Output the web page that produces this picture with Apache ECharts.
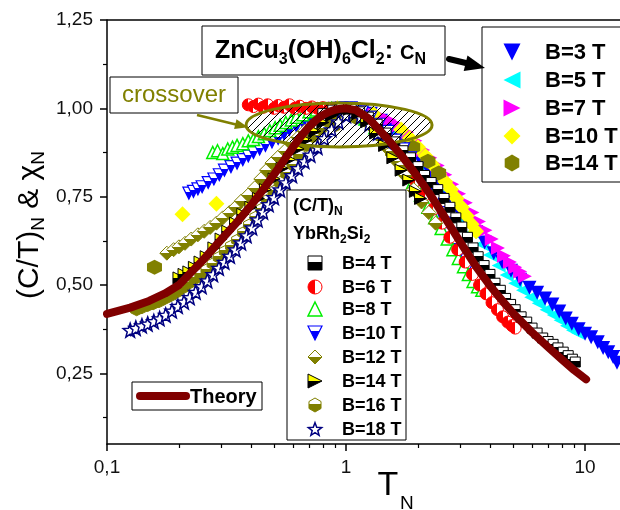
<!DOCTYPE html>
<html><head><meta charset="utf-8">
<script src="https://cdn.jsdelivr.net/npm/echarts@6/dist/echarts.min.js"></script>
<style>html,body{margin:0;padding:0;background:#fff}#c{width:620px;height:510px}</style>
</head><body><div id="c"></div>
<script>
const FONT = '"Liberation Sans", Arial, Helvetica, sans-serif';

// ---- axis ticks ----
const xMajorTicks = [0.1, 1, 10];
const xMinorTicks = [0.2, 0.3, 0.4, 0.5, 0.6, 0.7, 0.8, 0.9, 2, 3, 4, 5, 6, 7, 8, 9];
const yMajorTicks = [0.25, 0.5, 0.75, 1.0, 1.25];
const yMinorTicks = [0.125, 0.375, 0.625, 0.875, 1.125];

// ---- YbRh2Si2 (C/T)_N ----
const yb4 = [[0.8,0.985],[0.88,0.995],[0.96,1.0],[1.05,0.998],[1.14,0.99],[1.24,0.975],[1.35,0.955],[1.47,0.93],[1.6,0.905],[1.73,0.88],[1.86,0.86],[2.0,0.835],[2.13,0.81],[2.27,0.79],[2.42,0.77],[2.57,0.745],[2.72,0.72],[2.88,0.69],[3.05,0.664],[3.22,0.635],[3.4,0.605],[3.57,0.58],[3.78,0.555],[4.0,0.53],[4.2,0.505],[4.42,0.485],[4.65,0.462],[4.88,0.445],[5.1,0.43],[5.4,0.41],[5.7,0.395],[6.0,0.378],[6.3,0.364],[6.65,0.35],[7.0,0.34],[7.35,0.332],[7.7,0.322],[8.1,0.31],[8.5,0.3],[8.85,0.29],[9.1,0.282]];
const yb6 = [[0.39,1.01],[0.41,1.005],[0.43,1.012],[0.45,1.003],[0.47,1.01],[0.5,1.0],[0.52,1.008],[0.55,1.003],[0.58,1.01],[0.61,1.0],[0.64,1.006],[0.68,1.0],[0.72,1.004],[0.76,1.0],[0.8,1.002],[0.85,0.998],[0.9,1.0],[0.96,0.998],[1.03,0.995],[1.12,0.985],[1.22,0.965],[1.34,0.94],[1.47,0.91],[1.62,0.87],[1.78,0.835],[1.95,0.795],[2.13,0.755],[2.32,0.715],[2.52,0.675],[2.72,0.635],[2.93,0.6],[3.15,0.565],[3.38,0.53],[3.62,0.5],[3.85,0.475],[4.08,0.45],[4.3,0.43],[4.52,0.41],[4.75,0.395],[4.95,0.385],[5.1,0.378]];
const yb8 = [[0.277,0.875],[0.29,0.88],[0.305,0.872],[0.32,0.885],[0.335,0.89],[0.35,0.895],[0.37,0.9],[0.39,0.908],[0.41,0.912],[0.43,0.92],[0.455,0.928],[0.48,0.937],[0.505,0.945],[0.53,0.952],[0.56,0.96],[0.59,0.967],[0.62,0.975],[0.66,0.982],[0.7,0.99],[0.75,0.995],[0.8,0.998],[0.87,1.0],[0.94,1.0],[1.02,0.998],[1.1,0.99],[1.2,0.97],[1.32,0.945],[1.45,0.91],[1.6,0.87],[1.75,0.83],[1.9,0.79],[2.05,0.755],[2.2,0.72],[2.35,0.69],[2.5,0.66],[2.65,0.63],[2.8,0.6],[2.95,0.575],[3.1,0.552],[3.25,0.53],[3.4,0.51],[3.55,0.495],[3.7,0.485]];
const yb10 = [[0.22,0.76],[0.23,0.765],[0.24,0.772],[0.25,0.778],[0.265,0.79],[0.28,0.8],[0.295,0.812],[0.31,0.825],[0.33,0.835],[0.35,0.845],[0.37,0.855],[0.39,0.865],[0.41,0.875],[0.435,0.885],[0.46,0.895],[0.49,0.905],[0.52,0.915],[0.55,0.928],[0.58,0.94],[0.62,0.95],[0.66,0.96],[0.7,0.97],[0.75,0.98],[0.8,0.99],[0.86,0.995],[0.93,1.0],[1.0,1.0],[1.08,0.998],[1.17,0.99],[1.27,0.975],[1.38,0.955],[1.5,0.935],[1.62,0.91],[1.74,0.885],[1.86,0.86],[1.98,0.83],[2.1,0.8],[2.22,0.77],[2.35,0.74],[2.48,0.705],[2.6,0.675],[2.72,0.645],[2.84,0.615],[2.96,0.585],[3.08,0.562],[3.2,0.545]];
const yb12 = [[0.178,0.59],[0.19,0.6],[0.2,0.608],[0.212,0.618],[0.225,0.63],[0.24,0.642],[0.255,0.652],[0.27,0.663],[0.287,0.675],[0.305,0.69],[0.325,0.705],[0.345,0.72],[0.365,0.738],[0.39,0.755],[0.415,0.775],[0.44,0.8],[0.465,0.825],[0.49,0.845],[0.52,0.862],[0.555,0.88],[0.59,0.9],[0.63,0.918],[0.67,0.935],[0.72,0.95],[0.77,0.965],[0.83,0.978],[0.9,0.99],[0.97,0.998],[1.05,0.995],[1.14,0.98],[1.25,0.955],[1.37,0.925],[1.5,0.885],[1.63,0.85],[1.77,0.81],[1.92,0.77],[2.07,0.735],[2.22,0.705],[2.37,0.675]];
const yb14 = [[0.2,0.52],[0.21,0.53],[0.22,0.537],[0.232,0.55],[0.245,0.565],[0.26,0.58],[0.28,0.605],[0.3,0.63],[0.32,0.652],[0.345,0.675],[0.37,0.7],[0.4,0.72],[0.43,0.745],[0.46,0.77],[0.5,0.8],[0.54,0.83],[0.58,0.855],[0.63,0.885],[0.68,0.91],[0.74,0.935],[0.8,0.96],[0.87,0.98],[0.95,0.995],[1.03,0.997],[1.12,0.985],[1.22,0.962],[1.33,0.93],[1.45,0.895],[1.57,0.86],[1.7,0.825],[1.83,0.797],[1.95,0.765],[2.05,0.745]];
const yb16 = [[0.133,0.43],[0.14,0.436],[0.148,0.442],[0.156,0.447],[0.165,0.453],[0.175,0.462],[0.185,0.47],[0.196,0.48],[0.208,0.492],[0.22,0.505],[0.233,0.518],[0.247,0.53],[0.262,0.543],[0.278,0.56],[0.295,0.578],[0.313,0.595],[0.332,0.61],[0.352,0.627],[0.373,0.648],[0.395,0.67],[0.42,0.692],[0.445,0.715],[0.47,0.74],[0.5,0.765],[0.53,0.79],[0.565,0.815],[0.6,0.84],[0.64,0.868],[0.685,0.895],[0.73,0.92],[0.78,0.942],[0.84,0.962],[0.9,0.98],[0.97,0.995],[1.05,0.995],[1.15,0.98],[1.27,0.955],[1.4,0.92],[1.55,0.875],[1.7,0.835]];
const yb18 = [[0.125,0.372],[0.132,0.378],[0.14,0.385],[0.148,0.39],[0.157,0.397],[0.166,0.405],[0.176,0.415],[0.187,0.427],[0.198,0.44],[0.21,0.452],[0.222,0.465],[0.235,0.48],[0.249,0.496],[0.263,0.512],[0.278,0.53],[0.294,0.548],[0.31,0.565],[0.327,0.582],[0.345,0.6],[0.364,0.62],[0.384,0.64],[0.405,0.662],[0.427,0.685],[0.45,0.707],[0.475,0.728],[0.5,0.748],[0.53,0.77],[0.56,0.79],[0.595,0.81],[0.63,0.83],[0.67,0.85],[0.71,0.868],[0.76,0.89],[0.81,0.915],[0.87,0.94],[0.93,0.962],[1.0,0.98],[1.07,0.99],[1.15,0.975],[1.25,0.955],[1.36,0.93],[1.48,0.905]];

// ---- ZnCu3(OH)6Cl2 C_N ----
const zn3 = [[0.8,0.985],[0.88,0.995],[0.96,1.0],[1.05,1.0],[1.15,0.995],[1.27,0.985],[1.4,0.965],[1.55,0.94],[1.7,0.915],[1.87,0.885],[2.05,0.85],[2.25,0.815],[2.47,0.78],[2.7,0.745],[2.95,0.71],[3.2,0.68],[3.5,0.65],[3.8,0.62],[4.15,0.59],[4.5,0.565],[4.9,0.54],[5.35,0.515],[5.85,0.492],[6.3,0.478],[6.8,0.462],[7.3,0.445],[7.8,0.425],[8.3,0.405],[8.8,0.39],[9.4,0.375],[10.0,0.362],[10.6,0.352],[11.3,0.338],[11.9,0.322],[12.5,0.31],[13.1,0.296],[13.6,0.28]];
const zn5 = [[0.82,0.99],[0.92,0.998],[1.02,1.0],[1.13,0.995],[1.25,0.982],[1.4,0.96],[1.56,0.935],[1.73,0.905],[1.92,0.87],[2.12,0.835],[2.34,0.8],[2.58,0.76],[2.83,0.72],[3.1,0.685],[3.4,0.65],[3.7,0.615],[4.0,0.585],[4.35,0.555],[4.7,0.528],[5.1,0.505],[5.5,0.485],[5.95,0.465],[6.4,0.448],[6.9,0.43],[7.4,0.415],[7.9,0.4],[8.4,0.385],[8.9,0.372],[9.3,0.365]];
const zn7 = [[0.8,0.99],[0.9,1.0],[1.0,1.0],[1.12,0.998],[1.25,0.99],[1.38,0.98],[1.52,0.967],[1.66,0.952],[1.8,0.932],[1.95,0.908],[2.1,0.882],[2.25,0.86],[2.42,0.838],[2.6,0.812],[2.78,0.785],[2.97,0.758],[3.17,0.733],[3.38,0.705],[3.6,0.68],[3.83,0.655],[4.07,0.63],[4.32,0.605],[4.58,0.583],[4.85,0.565],[5.1,0.55],[5.35,0.538],[5.6,0.525]];
const zn10 = [[0.207,0.70],[0.287,0.73],[0.92,1.0],[1.3,0.985],[1.7,0.94],[1.85,0.915],[2.0,0.89],[2.15,0.865],[2.3,0.84],[2.45,0.815],[2.6,0.792],[2.75,0.77],[2.9,0.745],[3.05,0.72],[3.2,0.695],[3.35,0.672],[3.5,0.652]];
const zn14 = [[0.158,0.55],[0.88,0.95],[1.1,0.975],[1.9,0.89],[2.2,0.85],[2.44,0.817]];

// ---- Theory ----
const theory = [[0.1,0.418],[0.125,0.436],[0.15,0.455],[0.175,0.476],[0.2,0.5],[0.225,0.536],[0.25,0.568],[0.3,0.628],[0.35,0.678],[0.4,0.725],[0.45,0.77],[0.5,0.813],[0.55,0.853],[0.6,0.89],[0.65,0.922],[0.7,0.948],[0.75,0.967],[0.8,0.981],[0.85,0.99],[0.9,0.996],[0.95,0.999],[1.0,1.0],[1.1,0.995],[1.25,0.97],[1.5,0.912],[1.75,0.857],[2.0,0.805],[2.25,0.756],[2.5,0.708],[2.75,0.663],[3.0,0.622],[3.5,0.552],[4.0,0.498],[4.5,0.456],[5.0,0.42],[6.0,0.366],[7.0,0.324],[8.0,0.289],[9.0,0.259],[10.1,0.233]];

// ---------- styling helpers ----------
const OLIVE = '#808000', NAVY = '#000080';
const SHAPES = {
  down: [[0,0],[1,0],[0.5,1]],
  up: [[0.5,0],[1,1],[0,1]],
  right: [[0,0],[1,0.5],[0,1]],
  left: [[1,0],[0,0.5],[1,1]],
  diamond: [[0.5,0],[1,0.5],[0.5,1],[0,0.5]],
  hex: [[0.5,0],[0.93,0.25],[0.93,0.75],[0.5,1],[0.07,0.75],[0.07,0.25]],
  rect: [[0,0],[1,0],[1,1],[0,1]],
  star: (function(){ const p=[]; for(let i=0;i<10;i++){ const a=-Math.PI/2+i*Math.PI/5, r=i%2?0.21:0.5; p.push([0.5+r*Math.cos(a),0.55+r*Math.sin(a)]);} return p; })()
};
function symPath(k){
  if (k==='circle') return 'circle';
  if (k==='rect') return 'rect';
  return 'path://M' + SHAPES[k].map(p => (p[0]*20).toFixed(2)+','+(p[1]*20).toFixed(2)).join('L') + 'Z';
}
const LG = echarts.graphic.LinearGradient;
function vHalf(top, bot, at){ return new LG(0,0,0,1,[{offset:0,color:top},{offset:at,color:top},{offset:at,color:bot},{offset:1,color:bot}]); }
function hHalf(left, right, at){ return new LG(0,0,1,0,[{offset:0,color:left},{offset:at,color:left},{offset:at,color:right},{offset:1,color:right}]); }

const STY = {
  yb4:  {shape:'rect', size:10, fill:()=>vHalf('#fff','#000',0.45), stroke:'#000', lw:1},
  yb6:  {shape:'circle', size:12, fill:()=>hHalf('#ff0000','#fff',0.5), stroke:'#ff0000', lw:1},
  yb8:  {shape:'up', size:12, fill:()=>'#fff', stroke:'#00ee00', lw:1.5},
  yb10: {shape:'down', size:12, fill:()=>vHalf('#fff','#0000ff',0.4), stroke:'#0000ff', lw:1.2},
  yb12: {shape:'diamond', size:14, fill:()=>vHalf('#fff',OLIVE,0.5), stroke:OLIVE, lw:1},
  yb14: {shape:'right', size:12, fill:()=>vHalf('#ffff00','#000',0.5), stroke:'#000', lw:1},
  yb16: {shape:'hex', size:12, fill:()=>vHalf('#fff',OLIVE,0.4), stroke:OLIVE, lw:1},
  yb18: {shape:'star', size:14, fill:()=>'#fff', stroke:NAVY, lw:1.5},
  zn3:  {shape:'down', size:14, fill:()=>'#0000ff', stroke:'#0000ff', lw:0},
  zn5:  {shape:'left', size:14, fill:()=>'#00ffff', stroke:'#00ffff', lw:0},
  zn7:  {shape:'right', size:14, fill:()=>'#ff00ff', stroke:'#ff00ff', lw:0},
  zn10: {shape:'diamond', size:16, fill:()=>'#ffff00', stroke:'#ffff00', lw:0},
  zn14: {shape:'hex', size:15, fill:()=>OLIVE, stroke:OLIVE, lw:0}
};
function scat(name, key, data, z){
  const s = STY[key];
  return {type:'scatter', name, data, z, symbol:symPath(s.shape), symbolSize:s.size,
    itemStyle:{color:s.fill(), borderColor:s.stroke, borderWidth:s.lw, opacity:1},
    emphasis:{disabled:true}, animation:false, silent:true};
}

const chart = echarts.init(document.getElementById('c'), null, {renderer:'canvas'});
const fmtX = v => String(Number(Number(v).toPrecision(3))).replace('.', ',');
const fmtY = v => Number(v).toFixed(2).replace('.', ',');

chart.setOption({
  animation:false,
  backgroundColor:'#fff',
  grid:{left:107, top:20, right:-2, bottom:66, show:false},
  xAxis:[
    {type:'log', logBase:10, min:0.1, max:14, position:'bottom',
     axisLine:{show:true, onZero:false, lineStyle:{color:'#000', width:1.5}},
     axisTick:{show:true, length:7, lineStyle:{color:'#000', width:1.5}, customValues:xMajorTicks},
     axisLabel:{show:true, margin:14, fontSize:19, color:'#111', fontFamily:FONT, customValues:xMajorTicks, formatter:fmtX},
     splitLine:{show:false}, minorTick:{show:false}},
    {type:'log', logBase:10, min:0.1, max:14, position:'bottom', offset:0,
     axisLine:{show:false},
     axisTick:{show:true, length:4, lineStyle:{color:'#000', width:1.2}, customValues:xMinorTicks},
     axisLabel:{show:false}, splitLine:{show:false}}
  ],
  yAxis:[
    {type:'value', min:0.05, max:1.25, position:'left',
     axisLine:{show:true, onZero:false, lineStyle:{color:'#000', width:1.5}},
     axisTick:{show:true, length:7, lineStyle:{color:'#000', width:1.5}, customValues:yMajorTicks},
     axisLabel:{show:true, margin:14, fontSize:19, color:'#111', fontFamily:FONT, customValues:yMajorTicks, formatter:fmtY},
     splitLine:{show:false}},
    {type:'value', min:0.05, max:1.25, position:'left', offset:0,
     axisLine:{show:false},
     axisTick:{show:true, length:4, lineStyle:{color:'#000', width:1.2}, customValues:yMinorTicks},
     axisLabel:{show:false}, splitLine:{show:false}}
  ],
  series:[
    scat('ZnCu B=5 T','zn5',zn5,2),
    scat('ZnCu B=3 T','zn3',zn3,2),
    scat('ZnCu B=7 T','zn7',zn7,2),
    scat('ZnCu B=10 T','zn10',zn10,2),
    scat('ZnCu B=14 T','zn14',zn14,2),
    scat('B=10 T','yb10',yb10,3),
    scat('B=8 T','yb8',yb8,3),
    scat('B=6 T','yb6',yb6,3),
    scat('B=12 T','yb12',yb12,3),
    scat('B=16 T','yb16',yb16,3),
    scat('B=18 T','yb18',yb18,3),
    scat('B=14 T','yb14',yb14,3),
    scat('B=4 T','yb4',yb4,3),
    {type:'line', name:'Theory', data:theory, z:6, showSymbol:false, symbol:'none', smooth:false,
     lineStyle:{color:'#800000', width:8, cap:'round', join:'round'}, silent:true, animation:false}
  ]
});

// ---------- annotations ----------
function legendSym(key, cx, cy, size){
  const s = STY[key];
  const style = {fill:s.fill(), stroke:s.lw ? s.stroke : null, lineWidth:s.lw};
  if (s.shape === 'circle') return {type:'circle', shape:{cx, cy, r:size/2}, style, z:12};
  const pts = SHAPES[s.shape].map(p => [cx - size/2 + p[0]*size, cy - size/2 + p[1]*size]);
  return {type:'polygon', shape:{points:pts}, style, z:12};
}
function txt(x, y, text, opts){
  return {type:'text', x, y, z:12, style:Object.assign({text, fill:'#000', fontFamily:FONT, align:'left', verticalAlign:'middle'}, opts)};
}
function box(x, y, w, h){
  return {type:'rect', shape:{x, y, width:w, height:h}, style:{fill:'#fff', stroke:'#000', lineWidth:1}, z:10};
}

// hatch pattern
const pc = document.createElement('canvas'); pc.width = 8; pc.height = 8;
const pctx = pc.getContext('2d'); pctx.strokeStyle = '#000'; pctx.lineWidth = 1;
pctx.beginPath(); pctx.moveTo(0,8); pctx.lineTo(8,0); pctx.moveTo(-1,1); pctx.lineTo(1,-1); pctx.moveTo(7,9); pctx.lineTo(9,7); pctx.stroke();

const ctr = chart.convertToPixel({xAxisIndex:0, yAxisIndex:0}, [0.935, 0.953]);
const topLeft = chart.convertToPixel({xAxisIndex:0, yAxisIndex:0}, [0.1, 1.25]);

const G = [];
// top frame line
G.push({type:'line', shape:{x1:topLeft[0], y1:topLeft[1], x2:620, y2:topLeft[1]}, style:{stroke:'#000', lineWidth:1.5}, z:5});
// crossover ellipse
G.push({type:'ellipse', shape:{cx:ctr[0], cy:ctr[1], rx:93, ry:22}, style:{fill:{image:pc, repeat:'repeat'}, stroke:OLIVE, lineWidth:3}, z:4});
// crossover box & arrow
G.push(box(110, 77, 128, 36));
G.push(txt(174, 95, 'crossover', {fontSize:24, fill:OLIVE, align:'center'}));
G.push({type:'line', shape:{x1:197, y1:115, x2:238, y2:125}, style:{stroke:OLIVE, lineWidth:2.5}, z:11});
G.push({type:'polygon', shape:{points:[[248,127.3],[236.5,119.3],[234.1,129.1]]}, style:{fill:OLIVE}, z:11});

// ZnCu title box
G.push(box(202, 26, 243, 49));
G.push(txt(215, 51, '{b|ZnCu}{s|3}{b|(OH)}{s|6}{b|Cl}{s|2}{b|: }{c|C}{s|N}', {rich:{
  b:{fontSize:25, fontWeight:'bold', fontFamily:FONT, fill:'#000'},
  s:{fontSize:16, fontWeight:'bold', fontFamily:FONT, fill:'#000', padding:[17,0,0,0]},
  c:{fontSize:20, fontWeight:'bold', fontFamily:FONT, fill:'#000', padding:[4,0,0,0]}
}}));
// black arrow to ZnCu legend
G.push({type:'line', shape:{x1:449, y1:59, x2:468, y2:63.5}, style:{stroke:'#000', lineWidth:6, lineCap:'round'}, z:11});
G.push({type:'polygon', shape:{points:[[485,68],[467.5,55.5],[463.7,71.1]]}, style:{fill:'#000'}, z:11});

// ZnCu legend
G.push(box(482, 27, 150, 155));
const znLeg = [['zn3','B=3 T'],['zn5','B=5 T'],['zn7','B=7 T'],['zn10','B=10 T'],['zn14','B=14 T']];
const znY = [52, 80, 108, 136, 163];
znLeg.forEach((e,i) => {
  G.push(legendSym(e[0], 512, znY[i], 17));
  G.push(txt(545, znY[i]+1, e[1], {fontSize:22, fontWeight:'bold'}));
});

// YbRh2Si2 legend
G.push(box(287, 190, 119, 250));
G.push(txt(293, 206, '{b|(C/T)}{s|N}', {rich:{
  b:{fontSize:18, fontWeight:'bold', fontFamily:FONT, fill:'#000'},
  s:{fontSize:12, fontWeight:'bold', fontFamily:FONT, fill:'#000', padding:[12,0,0,0]}}}));
G.push(txt(293, 234, '{b|YbRh}{s|2}{b|Si}{s|2}', {rich:{
  b:{fontSize:18, fontWeight:'bold', fontFamily:FONT, fill:'#000'},
  s:{fontSize:12, fontWeight:'bold', fontFamily:FONT, fill:'#000', padding:[12,0,0,0]}}}));
const ybLeg = [['yb4','B=4 T'],['yb6','B=6 T'],['yb8','B=8 T'],['yb10','B=10 T'],['yb12','B=12 T'],['yb14','B=14 T'],['yb16','B=16 T'],['yb18','B=18 T']];
const ybY = [263, 287, 309, 333, 357, 381, 405, 429];
ybLeg.forEach((e,i) => {
  G.push(legendSym(e[0], 315, ybY[i], 14));
  G.push(txt(342, ybY[i]+1, e[1], {fontSize:18, fontWeight:'bold'}));
});

// Theory legend
G.push(box(132, 382, 130, 28));
G.push({type:'line', shape:{x1:140, y1:396, x2:186, y2:396}, style:{stroke:'#800000', lineWidth:8, lineCap:'round'}, z:12});
G.push(txt(190, 397, 'Theory', {fontSize:20, fontWeight:'bold'}));

// axis titles
G.push({type:'text', x:30, y:225, rotation:Math.PI/2, z:12, style:{
  text:'{a|(C/T)}{s|N}{a| & χ}{s|N}', align:'center', verticalAlign:'middle', fill:'#000',
  rich:{a:{fontSize:30, fontFamily:FONT, fill:'#000'}, s:{fontSize:19, fontFamily:FONT, fill:'#000', padding:[17,0,0,0]}}}});
G.push(txt(388, 486, 'T', {fontSize:34, align:'center'}));
G.push(txt(400, 504, 'N', {fontSize:19}));

chart.setOption({graphic:{elements:G}});
</script>
</body></html>
